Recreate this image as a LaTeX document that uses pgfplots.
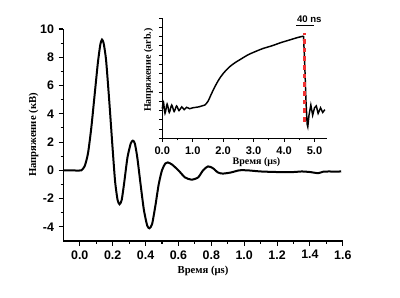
\documentclass[border=0pt]{standalone}
\usepackage{fontspec}
\setmainfont{Liberation Serif}
\newfontfamily\sfb{Liberation Sans}
\usepackage{pgfplots}
\pgfplotsset{compat=1.18}
\definecolor{dashred}{RGB}{240,50,50}
\begin{document}
\begin{tikzpicture}
\useasboundingbox (0,0) rectangle (300pt,222.75pt);
% main axis
\begin{axis}[
  at={(47.5pt,42pt)}, anchor=south west,
  scale only axis, width=209.6pt, height=159pt,
  xmin=-0.1, xmax=1.6, ymin=-5, ymax=10,
  axis x line*=bottom, axis y line*=left,
  axis line style={-, line width=0.9pt},
  tick align=outside, tick style={black, line width=0.8pt},
  major tick length=3.5pt, minor tick length=2pt,
  xtick={0,0.2,...,1.6}, minor x tick num=1,
  ytick={-4,-2,...,10}, minor y tick num=1,
  /pgf/number format/assume math mode=true,
  xticklabel style={/pgf/number format/.cd, fixed, fixed zerofill, precision=1},
  ticklabel style={font=\sfb\bfseries\fontsize{9.3}{9.3}\selectfont},
  xlabel={\bfseries Время (μs)},
  ylabel={\bfseries Напряжение (кВ)},
  label style={font=\fontsize{8}{8.5}\selectfont},
  xlabel style={yshift=2pt},
  ylabel style={yshift=-5.5pt},
  clip=false,
]
\addplot[black, line width=1.5pt, smooth, tension=0.4] coordinates {
(-0.1,0) (-0.05,0) (-0.01,-0.02) (0.01,0) (0.03,0.3) (0.05,1.2) (0.07,3.0)
(0.09,5.3) (0.11,7.6) (0.125,8.9) (0.135,9.25) (0.145,9.0) (0.16,7.8)
(0.18,4.8) (0.20,1.5) (0.215,-0.8) (0.23,-2.1) (0.242,-2.4) (0.255,-2.1)
(0.27,-0.9) (0.29,0.9) (0.31,1.9) (0.323,2.1) (0.335,1.9) (0.35,0.9)
(0.37,-1.0) (0.39,-2.8) (0.41,-3.9) (0.424,-4.1) (0.44,-3.8) (0.46,-2.5)
(0.48,-1.0) (0.50,0.0) (0.52,0.48) (0.535,0.56) (0.56,0.42) (0.60,0.0)
(0.64,-0.5) (0.68,-0.66) (0.72,-0.5) (0.75,0.0) (0.78,0.28) (0.81,0.15)
(0.84,-0.15) (0.87,-0.23) (0.92,-0.15) (0.97,0.0) (1.02,0.0) (1.1,-0.08)
(1.2,-0.12) (1.3,-0.12) (1.35,-0.08) (1.4,-0.12) (1.45,-0.2) (1.48,-0.1)
(1.52,-0.08) (1.56,-0.1) (1.59,-0.07)
};
\end{axis}
% inset
\begin{axis}[
  at={(121.7pt,119pt)}, anchor=south west,
  scale only axis, width=123.3pt, height=90.2pt,
  xmin=0, xmax=5.4, ymin=0, ymax=13,
  axis x line*=bottom, axis y line*=left,
  axis line style={-, line width=0.8pt},
  tick align=outside, tick style={black, line width=0.6pt},
  major tick length=2.5pt, minor tick length=1.5pt,
  xtick={0,1,...,5}, minor x tick num=1,
  ytick={0,1,...,13}, yticklabels={},
  /pgf/number format/assume math mode=true,
  xticklabel style={/pgf/number format/.cd, fixed, fixed zerofill, precision=1},
  ticklabel style={font=\sfb\bfseries\fontsize{8.3}{8.3}\selectfont},
  xlabel={\bfseries Время (μs)},
  ylabel={\bfseries Напряжение (arb.)},
  label style={font=\fontsize{7.5}{8}\selectfont},
  xlabel style={yshift=4pt, xshift=9pt},
  ylabel style={yshift=-6pt, xshift=6pt},
  clip=false,
]
\addplot[black, line width=1.1pt, smooth, tension=0.5] coordinates {
(0.00,3.2) (0.04,3.9) (0.09,2.7) (0.16,3.7) (0.23,2.8) (0.31,3.6) (0.39,2.9)
(0.47,3.5) (0.55,3.0) (0.64,3.4) (0.72,3.1) (0.80,3.35) (0.9,3.2) (1.0,3.3)
(1.1,3.35) (1.2,3.4) (1.3,3.5) (1.4,3.6) (1.5,4.0) (1.6,4.7) (1.7,5.4)
(1.85,6.3) (2.0,7.0) (2.2,7.7) (2.4,8.2) (2.6,8.6) (2.8,9.0) (3.0,9.3)
(3.3,9.7) (3.6,10.0) (3.9,10.35) (4.2,10.65) (4.45,10.9) (4.64,11.05)
};
\addplot[black, line width=1.1pt] coordinates {
(4.64,11.05) (4.68,8.0) (4.72,4.0) (4.76,1.5) (4.78,1.25) (4.82,2.5)
(4.88,3.6) (4.94,2.5) (5.0,3.3) (5.06,3.5) (5.12,2.7) (5.2,3.3) (5.27,2.8) (5.34,3.1)
};
\addplot[dashred, line width=2.6pt, dash pattern=on 3.5pt off 3pt] coordinates {(4.67,1.8) (4.67,11.4)};
\addplot[black, line width=0.6pt] coordinates {(4.40,12.25) (4.99,12.25)};
\node[font=\sfb\bfseries\fontsize{7.2}{7.2}\selectfont, anchor=base] at (axis cs:4.83,12.5) {40 ns};
\end{axis}
\end{tikzpicture}
\end{document}
